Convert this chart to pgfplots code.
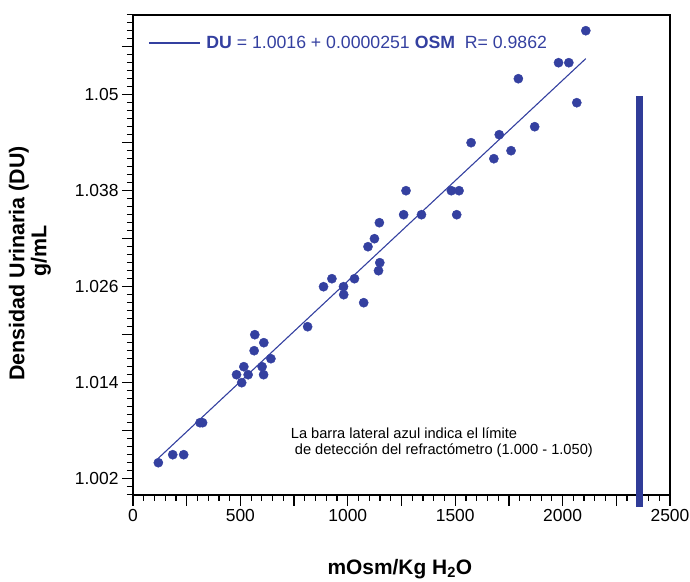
\documentclass[border=0pt]{standalone}
\usepackage{fontspec}
\setmainfont{Liberation Sans}
\usepackage{pgfplots}
\usepackage{pgfplotstable}
\pgfplotsset{compat=1.18}

\definecolor{dotblue}{RGB}{52,64,160}
\definecolor{barblue}{RGB}{48,60,152}

% osmolalidad (mOsm/Kg H2O) vs densidad urinaria (g/mL)
\pgfplotstableread{
osm   du
118   1.004
185   1.005
236   1.005
312   1.009
324   1.009
482   1.015
506   1.014
516   1.016
536   1.015
564   1.018
567   1.020
601   1.016
608   1.015
609   1.019
642   1.017
813   1.021
887   1.026
926   1.027
980   1.026
981   1.025
1031  1.027
1074  1.024
1094  1.031
1124  1.032
1143  1.028
1147  1.034
1149  1.029
1260  1.035
1271  1.038
1343  1.035
1482  1.038
1507  1.035
1518  1.038
1574  1.044
1680  1.042
1705  1.045
1760  1.043
1794  1.052
1870  1.046
1981  1.054
2029  1.054
2066  1.049
2108  1.058
}\datos

\begin{document}
\begin{tikzpicture}
\begin{axis}[
    name=ax,
    scale only axis,
    width=537bp, height=480bp,
    xmin=0, xmax=2500, ymin=1.000, ymax=1.060,
    clip=false,
    scaled ticks=false,
    axis line style={line width=2bp},
    tick align=outside, tick pos=left,
    major tick length=11bp, minor tick length=6bp,
    every tick/.style={black, line width=1.2bp},
    xtick={0,250,...,2500},
    xticklabels={0,,500,,1000,,1500,,2000,,2500},
    minor xtick={0,50,...,2500},
    ytick={1.002,1.008,1.014,1.020,1.026,1.032,1.038,1.044,1.050,1.056},
    yticklabels={1.002,,1.014,,1.026,,1.038,,1.05,},
    minor ytick={1.000,1.001,...,1.060},
    ticklabel style={font=\fontsize{17.5}{20}\selectfont},
    /pgf/number format/assume math mode=true,
    xlabel={mOsm/Kg H\textsubscript{2}O},
    xlabel style={at={(axis description cs:0.497,-0.167)}, anchor=base,
        font=\fontsize{21}{24}\selectfont\bfseries},
    ylabel={Densidad Urinaria (DU)\\\hspace*{25bp}g/mL},
    ylabel style={align=center, at={(axis description cs:-0.192,0.482)}, anchor=center,
        font=\fontsize{21.5}{22}\selectfont\bfseries},
    legend style={at={(axis description cs:0.028,0.941)}, anchor=west,
        draw=none, fill=none, inner sep=0pt,
        font=\fontsize{17.75}{20}\selectfont\color{dotblue}},
    legend cell align=left,
    legend image code/.code={\draw[#1] (0bp,0bp) -- (51bp,0bp);},
]
% barra lateral: limite del refractometro
\addplot[fill=barblue, draw=none, forget plot] coordinates {
    (2342,0.9985) (2376,0.9985) (2376,1.0498) (2342,1.0498)
};
\addplot[only marks, color=dotblue, mark=*, mark size=4.6bp,
    mark options={fill=dotblue, draw=none}, forget plot]
    table[x=osm, y=du] {\datos};
% DU = 1.0016 + 0.0000251 OSM
\addplot[dotblue, line width=1.1bp] coordinates {
    (118,1.0045618) (2108,1.0545108)
};
\addlegendentry{\hspace*{4bp}\textbf{DU} = 1.0016 + 0.0000251 \textbf{OSM}\ \ R= 0.9862}

\node[anchor=north west, inner sep=0pt, align=left,
    font=\fontsize{14.7}{16}\selectfont] at (axis cs:734,1.00834)
    {La barra lateral azul indica el límite\\\hspace*{4bp}de detección del refractómetro (1.000 - 1.050)};
\end{axis}
\pgfresetboundingbox
\path[use as bounding box] ([xshift=-133bp,yshift=-87.3bp]ax.south west)
    rectangle ([xshift=20bp,yshift=14.7bp]ax.north east);
\end{tikzpicture}
\end{document}
